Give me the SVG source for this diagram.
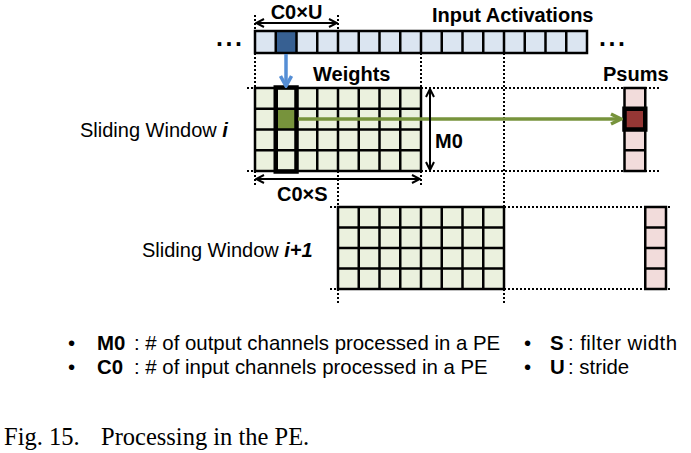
<svg xmlns="http://www.w3.org/2000/svg" width="691" height="453" viewBox="0 0 691 453">
<style>
.lbl{font-family:"Liberation Sans",Arial,sans-serif;font-size:20px;fill:#000}
.leg{font-family:"Liberation Sans",Arial,sans-serif;font-size:20.4px;fill:#000}
.b{font-weight:bold}
.bi{font-weight:bold;font-style:italic}
.cap{font-family:"Liberation Serif","Times New Roman",serif;font-size:24.5px;fill:#000}
.dot{stroke:#000;stroke-width:2;stroke-dasharray:2 2;fill:none}
.grid{stroke:#000;stroke-width:2.5;fill:none}
.dim{stroke:#000;stroke-width:2;fill:none}
</style>
<defs>
<marker id="chev" markerUnits="userSpaceOnUse" viewBox="0 0 10 10" refX="9" refY="5" markerWidth="10" markerHeight="10" orient="auto-start-reverse">
<path d="M1,1 L9,5 L1,9" fill="none" stroke="#000" stroke-width="2"/>
</marker>
<marker id="garr" markerUnits="userSpaceOnUse" viewBox="0 0 14 14" refX="12" refY="7" markerWidth="14" markerHeight="14" orient="auto">
<path d="M2,2 L12,7 L2,12" fill="none" stroke="#77933C" stroke-width="3.5"/>
</marker>
<marker id="barr" markerUnits="userSpaceOnUse" viewBox="0 0 14 14" refX="12" refY="7" markerWidth="14" markerHeight="14" orient="auto">
<path d="M2,1.5 L12,7 L2,12.5" fill="none" stroke="#558ED5" stroke-width="3.5"/>
</marker>
</defs>
<rect width="691" height="453" fill="#fff"/>

<g id="dotted-guides">
<path class="dot" d="M255,15V31 M338,15V31 M255,53V88 M421,53V88 M504,53V207 M255,171V187 M421,171V187 M338,171V207 M338,289V305 M504,289V305"/>
<path class="dot" d="M247,88H255 M421,88H660 M247,171H255 M421,171H660 M330,207H338 M504,207H670 M330,289H338 M504,289H670"/>
</g>

<g id="input-activations">
<rect x="255" y="31" width="332" height="22" fill="#DBE5F1"/>
<rect x="275.75" y="31" width="20.75" height="22" fill="#376092"/>
<path class="grid" d="M275.75,31V53 M296.5,31V53 M317.25,31V53 M338,31V53 M358.75,31V53 M379.5,31V53 M400.25,31V53 M421,31V53 M441.75,31V53 M462.5,31V53 M483.25,31V53 M504,31V53 M524.75,31V53 M545.5,31V53 M566.25,31V53"/>
<rect class="grid" x="255" y="31" width="332" height="22"/>
<text class="lbl b" x="432" y="22">Input Activations</text>
<text class="lbl b" x="216" y="46" style="font-size:25px;letter-spacing:2.5px">...</text>
<text class="lbl b" x="599" y="46" style="font-size:25px;letter-spacing:2.5px">...</text>
</g>

<g id="weights-window-i">
<rect x="255" y="88" width="166" height="83" fill="#EBF1DE"/>
<rect x="275.75" y="108.75" width="20.75" height="20.75" fill="#77933C"/>
<path class="grid" d="M275.75,88V171 M296.5,88V171 M317.25,88V171 M338,88V171 M358.75,88V171 M379.5,88V171 M400.25,88V171 M255,108.75H421 M255,129.5H421 M255,150.25H421"/>
<rect class="grid" x="255" y="88" width="166" height="83"/>
<rect x="275.75" y="87.5" width="20.75" height="84" fill="none" stroke="#000" stroke-width="4.5"/>
<text class="lbl b" x="313" y="81">Weights</text>
<text class="lbl" x="80" y="137">Sliding Window <tspan class="bi">i</tspan></text>
</g>

<g id="weights-window-i1">
<rect x="338" y="207" width="166" height="82" fill="#EBF1DE"/>
<path class="grid" d="M358.75,207V289 M379.5,207V289 M400.25,207V289 M421,207V289 M441.75,207V289 M462.5,207V289 M483.25,207V289 M338,227.5H504 M338,248H504 M338,268.5H504"/>
<rect class="grid" x="338" y="207" width="166" height="82"/>
<text class="lbl" x="142" y="257">Sliding Window <tspan class="bi">i+1</tspan></text>
</g>

<g id="psums-i">
<rect x="624.5" y="88" width="20.75" height="83" fill="#F2DCDB"/>
<rect x="624.5" y="108.75" width="20.75" height="20.75" fill="#953735"/>
<path class="grid" d="M624.5,108.75H645.25 M624.5,129.5H645.25 M624.5,150.25H645.25"/>
<rect class="grid" x="624.5" y="88" width="20.75" height="83"/>
<rect x="624.5" y="108.75" width="20.75" height="20.75" fill="none" stroke="#000" stroke-width="4.5"/>
<text class="lbl b" x="603" y="81">Psums</text>
</g>

<g id="psums-i1">
<rect x="645.25" y="207" width="20.75" height="82" fill="#F2DCDB"/>
<path class="grid" d="M645.25,227.5H666 M645.25,248H666 M645.25,268.5H666"/>
<rect class="grid" x="645.25" y="207" width="20.75" height="82"/>
</g>

<g id="connectors">
<line x1="286" y1="54" x2="286" y2="86" stroke="#558ED5" stroke-width="3.5" marker-end="url(#barr)"/>
<line x1="298" y1="119" x2="621" y2="119" stroke="#77933C" stroke-width="3.5" marker-end="url(#garr)"/>
<line class="dim" x1="256" y1="23" x2="337" y2="23" marker-start="url(#chev)" marker-end="url(#chev)"/>
<line class="dim" x1="430" y1="89" x2="430" y2="170" marker-start="url(#chev)" marker-end="url(#chev)"/>
<line class="dim" x1="256" y1="179" x2="420" y2="179" marker-start="url(#chev)" marker-end="url(#chev)"/>
</g>

<g id="dimension-labels">
<text class="lbl b" x="296.5" y="19" text-anchor="middle">C0×U</text>
<text class="lbl b" x="435" y="148">M0</text>
<text class="lbl b" x="277" y="201">C0×S</text>
</g>

<g id="legend">
<text class="leg" x="68" y="350">•</text>
<text class="leg" x="97" y="350"><tspan class="b">M0</tspan><tspan x="134">: # of output channels processed in a PE</tspan></text>
<text class="leg" x="68" y="374">•</text>
<text class="leg" x="97" y="374"><tspan class="b">C0</tspan><tspan x="134">: # of input channels processed in a PE</tspan></text>
<text class="leg" x="524" y="350">•</text>
<text class="leg" x="550" y="350"><tspan class="b">S</tspan><tspan x="568" textLength="109">: filter width</tspan></text>
<text class="leg" x="524" y="374">•</text>
<text class="leg" x="550" y="374"><tspan class="b">U</tspan><tspan x="568">: stride</tspan></text>
</g>

<g id="caption">
<text class="cap" x="4" y="445">Fig. 15.</text>
<text class="cap" x="101" y="445">Processing in the PE.</text>
</g>
</svg>
